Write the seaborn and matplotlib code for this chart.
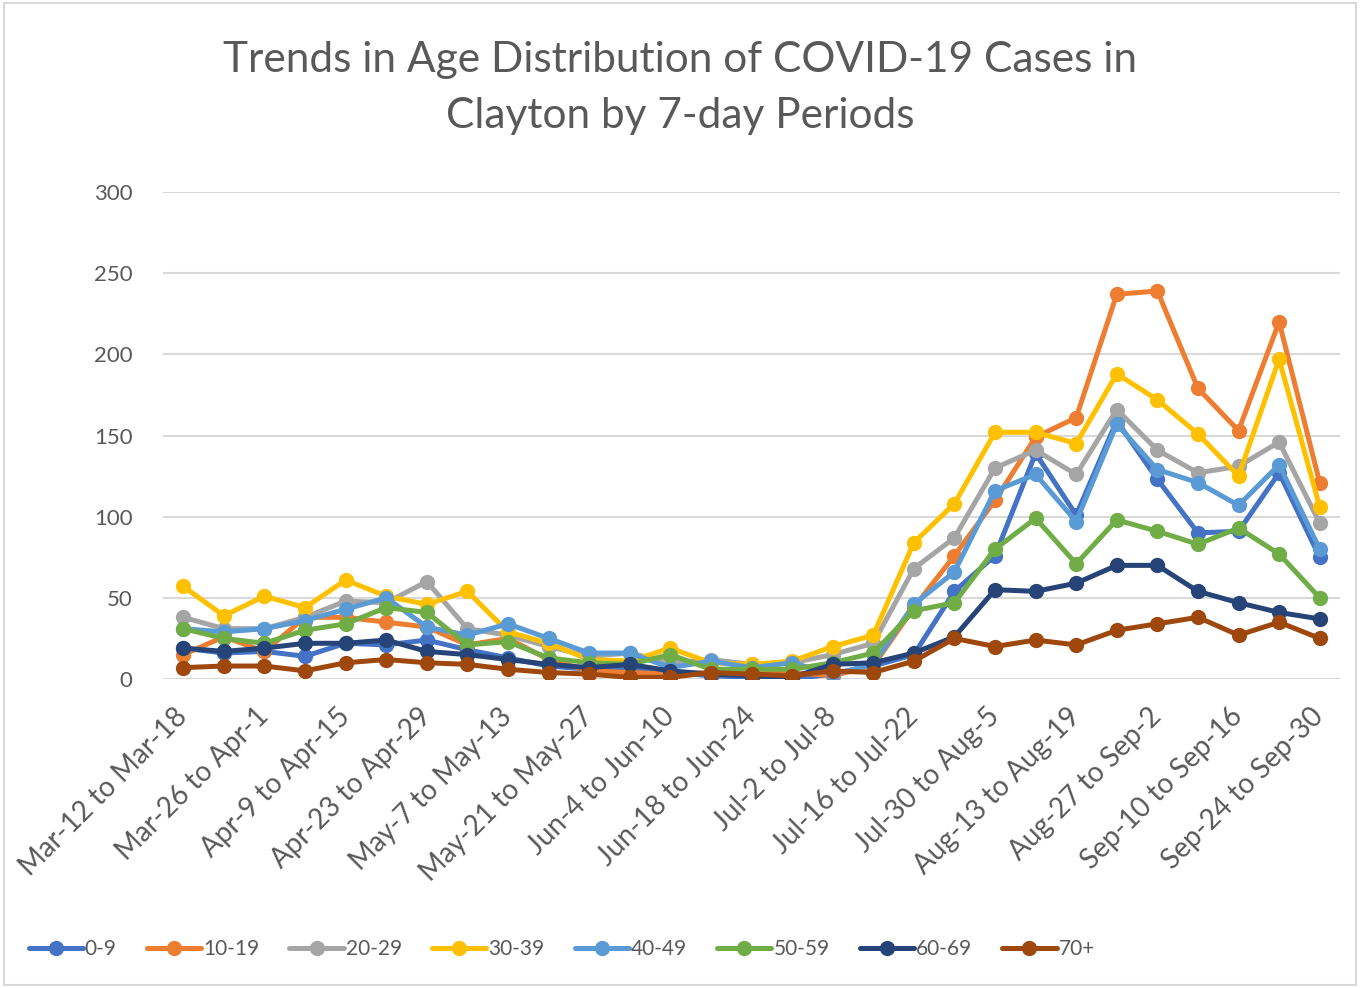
import pandas as pd
import matplotlib.pyplot as plt
import seaborn as sns
from matplotlib.patches import Rectangle

# ---------------- data ----------------
periods = [
    "Mar-12 to Mar-18", "Mar-19 to Mar-25", "Mar-26 to Apr-1", "Apr-2 to Apr-8",
    "Apr-9 to Apr-15", "Apr-16 to Apr-22", "Apr-23 to Apr-29", "Apr-30 to May-6",
    "May-7 to May-13", "May-14 to May-20", "May-21 to May-27", "May-28 to Jun-3",
    "Jun-4 to Jun-10", "Jun-11 to Jun-17", "Jun-18 to Jun-24", "Jun-25 to Jul-1",
    "Jul-2 to Jul-8", "Jul-9 to Jul-15", "Jul-16 to Jul-22", "Jul-23 to Jul-29",
    "Jul-30 to Aug-5", "Aug-6 to Aug-12", "Aug-13 to Aug-19", "Aug-20 to Aug-26",
    "Aug-27 to Sep-2", "Sep-3 to Sep-9", "Sep-10 to Sep-16", "Sep-17 to Sep-23",
    "Sep-24 to Sep-30",
]

age_0_9 = [19, 16, 17, 14, 22, 21, 24, 18, 13, 8, 6, 7, 4, 2, 1, 0, 3, 8, 15,
           54, 76, 139, 101, 159, 123, 90, 91, 127, 75]
age_10_19 = [15, 26, 17, 38, 38, 35, 32, 21, 25, 12, 5, 4, 3, 4, 3, 4, 2, 8, 44,
             76, 110, 149, 161, 237, 239, 179, 153, 220, 121]
age_20_29 = [38, 31, 31, 38, 48, 47, 60, 31, 27, 20, 14, 16, 10, 12, 9, 10, 15, 22, 68,
             87, 130, 141, 126, 166, 141, 127, 131, 146, 96]
age_30_39 = [57, 39, 51, 44, 61, 51, 46, 54, 29, 22, 12, 11, 19, 10, 9, 11, 20, 27, 84,
             108, 152, 152, 145, 188, 172, 151, 125, 197, 106]
age_40_49 = [31, 29, 31, 36, 43, 50, 32, 27, 34, 25, 16, 16, 7, 11, 7, 10, 3, 9, 46,
             66, 116, 126, 97, 157, 129, 121, 107, 132, 80]
age_50_59 = [31, 25, 22, 30, 34, 44, 41, 21, 23, 13, 10, 9, 15, 6, 6, 6, 10, 16, 42,
             47, 80, 99, 71, 98, 91, 83, 93, 77, 50]
age_60_69 = [19, 17, 19, 22, 22, 24, 17, 15, 12, 9, 7, 9, 5, 3, 2, 1, 9, 10, 16,
             26, 55, 54, 59, 70, 70, 54, 47, 41, 37]
age_70_plus = [7, 8, 8, 5, 10, 12, 10, 9, 6, 4, 3, 1, 1, 4, 3, 2, 5, 4, 11,
               25, 20, 24, 21, 30, 34, 38, 27, 35, 25]

groups = ["0-9", "10-19", "20-29", "30-39", "40-49", "50-59", "60-69", "70+"]
colors = ["#4472C4", "#ED7D31", "#A5A5A5", "#FFC000",
          "#5B9BD5", "#70AD47", "#264478", "#9E480E"]

series = [age_0_9, age_10_19, age_20_29, age_30_39,
          age_40_49, age_50_59, age_60_69, age_70_plus]
df = pd.concat(
    [pd.DataFrame({"Period": periods, "Cases": vals, "Age": g})
     for g, vals in zip(groups, series)],
    ignore_index=True,
)

# ---------------- plot ----------------
sns.set_style("white")
plt.rcParams["font.family"] = ["Lato", "DejaVu Sans"]
text_col = "#595959"

fig = plt.figure(figsize=(13.6, 9.88), dpi=100)
ax = fig.add_axes([163 / 1360, 1 - 679 / 988, (1340 - 163) / 1360, (679 - 192) / 988])

sns.lineplot(data=df, x="Period", y="Cases", hue="Age", hue_order=groups,
             palette=colors, marker="o", markersize=11, markeredgewidth=0,
             linewidth=3.6, sort=False, ax=ax)

ax.set_ylim(0, 300)
ax.set_xlim(-0.5, len(periods) - 0.5)
ax.set_yticks(range(0, 301, 50))
ax.yaxis.grid(True, color="#D9D9D9", linewidth=1.5)
ax.set_axisbelow(True)
for s in ax.spines.values():
    s.set_visible(False)
ax.tick_params(axis="y", length=0, labelsize=16, colors=text_col, pad=22)

# Excel skips every other category label
ax.set_xticks(range(0, len(periods), 2))
ax.set_xticklabels(periods[::2], rotation=45, ha="right", va="center",
                   rotation_mode="anchor", fontsize=20, color=text_col)
ax.tick_params(axis="x", length=0, pad=24)
ax.set_xlabel("")
ax.set_ylabel("")

fig.suptitle("Trends in Age Distribution of COVID-19 Cases in\nClayton by 7-day Periods",
             y=0.959, fontsize=30.5, color=text_col, linespacing=1.6)

handles, labels = ax.get_legend_handles_labels()
ax.get_legend().remove()
fig.legend(handles, labels, loc="center", bbox_to_anchor=(0.413, 0.039), ncol=8,
           frameon=False, fontsize=15, labelcolor=text_col, handlelength=2.6,
           handletextpad=0.1, columnspacing=1.45)

fig.patches.append(Rectangle((0.003, 0.003), 0.994, 0.994, transform=fig.transFigure,
                             fill=False, edgecolor="#D9D9D9", linewidth=1.5))

plt.savefig("out.png", dpi=100)
